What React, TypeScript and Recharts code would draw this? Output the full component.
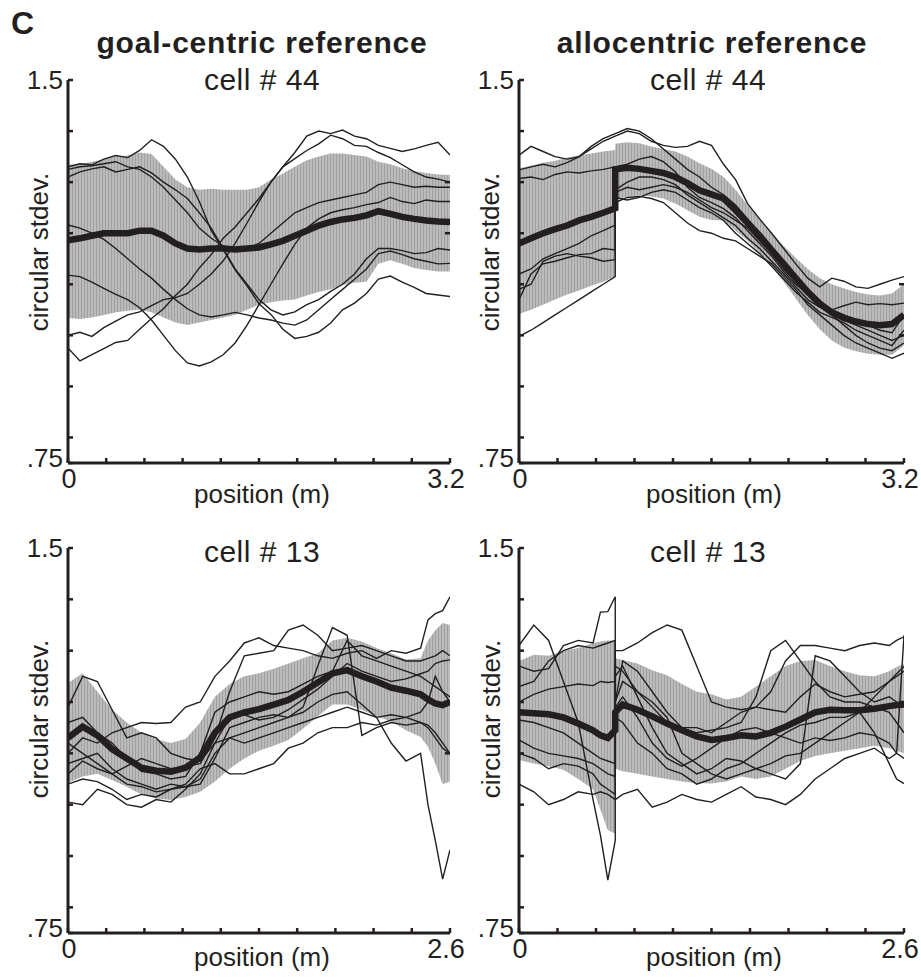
import { ComposedChart, Area, Line, XAxis, YAxis } from 'recharts'

const INK = '#231f20'
const FONT = '"Liberation Sans", Arial, Helvetica, sans-serif'

// shared axes
const Y_TICKS = [0.75, 0.8, 0.9, 1, 1.1, 1.2, 1.3, 1.4, 1.5]
const X_TICKS_32 = [0, 0.32, 0.64, 0.96, 1.28, 1.6, 1.92, 2.24, 2.56, 2.88, 3.2]
const X_TICKS_26 = [0, 0.26, 0.52, 0.78, 1.04, 1.3, 1.56, 1.82, 2.08, 2.34, 2.6]

// ---- goal-centric, cell # 44 ----
const goal44Pos = [0, 0.1, 0.2, 0.3, 0.4, 0.5, 0.6, 0.7, 0.8, 0.9, 1, 1.1, 1.2, 1.3, 1.4, 1.5, 1.6, 1.7, 1.8, 1.9, 2, 2.1, 2.2, 2.3, 2.4, 2.5, 2.6, 2.7, 2.8, 2.9, 3, 3.1, 3.2]
const goal44Mean = [1.186, 1.19, 1.195, 1.2, 1.2, 1.2, 1.205, 1.205, 1.195, 1.18, 1.17, 1.168, 1.17, 1.17, 1.168, 1.17, 1.172, 1.178, 1.185, 1.195, 1.205, 1.215, 1.222, 1.227, 1.23, 1.235, 1.243, 1.238, 1.232, 1.228, 1.225, 1.223, 1.222]
const goal44Hi = [1.334, 1.335, 1.34, 1.345, 1.35, 1.352, 1.358, 1.355, 1.33, 1.305, 1.29, 1.285, 1.287, 1.285, 1.285, 1.285, 1.29, 1.305, 1.317, 1.33, 1.343, 1.35, 1.356, 1.356, 1.353, 1.35, 1.34, 1.335, 1.327, 1.322, 1.318, 1.315, 1.314]
const goal44Lo = [1.034, 1.032, 1.035, 1.04, 1.045, 1.048, 1.05, 1.045, 1.035, 1.025, 1.02, 1.025, 1.03, 1.035, 1.04, 1.05, 1.06, 1.065, 1.068, 1.07, 1.078, 1.085, 1.09, 1.098, 1.103, 1.105, 1.14, 1.147, 1.14, 1.132, 1.128, 1.125, 1.125]
const goal44Traces = [
  [1.33, 1.336, 1.334, 1.345, 1.352, 1.348, 1.362, 1.383, 1.37, 1.345, 1.31, 1.262, 1.205, 1.168, 1.128, 1.097, 1.062, 1.041, 1.012, 0.994, 0.998, 1.006, 1.024, 1.05, 1.063, 1.082, 1.11, 1.116, 1.104, 1.094, 1.082, 1.079, 1.076],
  [0.975, 0.95, 0.962, 0.974, 0.986, 0.99, 1.012, 1.033, 1.052, 1.078, 1.1, 1.132, 1.158, 1.19, 1.212, 1.24, 1.268, 1.3, 1.33, 1.358, 1.39, 1.4, 1.395, 1.402, 1.39, 1.385, 1.372, 1.366, 1.36, 1.365, 1.372, 1.378, 1.353],
  [1.0, 1.006, 0.998, 1.015, 1.028, 1.04, 1.046, 1.058, 1.07, 1.074, 1.082, 1.1, 1.12, 1.146, 1.18, 1.22, 1.262, 1.3, 1.33, 1.346, 1.362, 1.375, 1.392, 1.385, 1.372, 1.37, 1.358, 1.348, 1.334, 1.32, 1.31, 1.306, 1.3],
  [1.118, 1.115, 1.104, 1.092, 1.08, 1.07, 1.054, 1.03, 1.0, 0.97, 0.946, 0.94, 0.948, 0.962, 0.985, 1.02, 1.06, 1.1, 1.14, 1.178, 1.21, 1.228, 1.24, 1.246, 1.25, 1.256, 1.26, 1.27, 1.262, 1.258, 1.265, 1.262, 1.262],
  [1.216, 1.21, 1.2, 1.188, 1.17, 1.15, 1.13, 1.112, 1.09, 1.07, 1.052, 1.04, 1.036, 1.04, 1.045, 1.04, 1.034, 1.03, 1.024, 1.02, 1.03, 1.05, 1.07, 1.09, 1.11, 1.13, 1.16, 1.165, 1.158, 1.15, 1.145, 1.14, 1.141],
  [1.31, 1.32, 1.326, 1.33, 1.32, 1.325, 1.33, 1.318, 1.3, 1.285, 1.268, 1.24, 1.21, 1.17, 1.13, 1.1, 1.07, 1.05, 1.04, 1.046, 1.06, 1.07, 1.086, 1.1, 1.12, 1.15, 1.17, 1.17, 1.166, 1.16, 1.162, 1.17, 1.167],
  [1.325, 1.33, 1.332, 1.336, 1.34, 1.33, 1.325, 1.31, 1.29, 1.265, 1.24, 1.21, 1.19, 1.175, 1.165, 1.17, 1.18, 1.2, 1.22, 1.24, 1.25, 1.26, 1.265, 1.27, 1.275, 1.28, 1.295, 1.3, 1.295, 1.29, 1.292, 1.29, 1.29],
]

// ---- allocentric, cell # 44 (break at 0.8 m) ----
const allo44Pos = [0, 0.1, 0.2, 0.3, 0.4, 0.5, 0.6, 0.7, 0.8, 0.8, 0.9, 1, 1.1, 1.2, 1.3, 1.4, 1.5, 1.6, 1.7, 1.8, 1.9, 2, 2.1, 2.2, 2.3, 2.4, 2.5, 2.6, 2.7, 2.8, 2.9, 3, 3.1, 3.2]
const allo44Mean = [1.18, 1.19, 1.2, 1.208, 1.215, 1.225, 1.232, 1.24, 1.249, 1.325, 1.328, 1.326, 1.322, 1.318, 1.31, 1.298, 1.284, 1.276, 1.268, 1.245, 1.22, 1.195, 1.167, 1.14, 1.112, 1.085, 1.062, 1.045, 1.034, 1.027, 1.022, 1.02, 1.022, 1.04]
const allo44Hi = [1.327, 1.332, 1.338, 1.342, 1.348, 1.352, 1.356, 1.36, 1.363, 1.375, 1.378, 1.376, 1.37, 1.365, 1.36, 1.35, 1.337, 1.326, 1.31, 1.285, 1.255, 1.228, 1.2, 1.175, 1.152, 1.13, 1.112, 1.1, 1.092, 1.085, 1.08, 1.078, 1.082, 1.1]
const allo44Lo = [1.042, 1.05, 1.06, 1.07, 1.08, 1.088, 1.097, 1.105, 1.115, 1.265, 1.272, 1.274, 1.272, 1.268, 1.258, 1.245, 1.232, 1.226, 1.225, 1.205, 1.185, 1.162, 1.134, 1.105, 1.072, 1.04, 1.012, 0.99, 0.976, 0.969, 0.964, 0.962, 0.962, 0.98]
const allo44Traces = [
  [1.353, 1.37, 1.36, 1.35, 1.345, 1.35, 1.365, 1.38, 1.39, 1.39, 1.4, 1.395, 1.38, 1.372, 1.368, 1.37, 1.38, 1.372, 1.335, 1.305, 1.258, 1.228, 1.2, 1.17, 1.14, 1.112, 1.095, 1.112, 1.106, 1.095, 1.092, 1.1, 1.108, 1.115],
  [1.324, 1.33, 1.335, 1.33, 1.338, 1.35, 1.37, 1.385, 1.395, 1.395, 1.405, 1.4, 1.385, 1.365, 1.345, 1.325, 1.31, 1.29, 1.275, 1.255, 1.228, 1.2, 1.172, 1.142, 1.112, 1.085, 1.065, 1.05, 1.058, 1.065, 1.06, 1.062, 1.06, 1.063],
  [1.307, 1.31, 1.305, 1.315, 1.32, 1.318, 1.322, 1.325, 1.33, 1.33, 1.335, 1.345, 1.35, 1.34, 1.32, 1.29, 1.27, 1.26, 1.248, 1.23, 1.205, 1.18, 1.155, 1.125, 1.1, 1.08, 1.065, 1.045, 1.03, 1.02, 1.01, 1.0, 0.99, 1.0],
  [1.12, 1.13, 1.15, 1.16, 1.17, 1.18, 1.195, 1.205, 1.216, 1.28, 1.29, 1.285, 1.29, 1.295, 1.29, 1.28, 1.265, 1.25, 1.24, 1.225, 1.21, 1.185, 1.16, 1.13, 1.105, 1.08, 1.06, 1.04, 1.02, 1.0, 0.985, 0.975, 0.97, 0.985],
  [1.09, 1.1, 1.145, 1.155, 1.16, 1.155, 1.152, 1.145, 1.148, 1.26, 1.27, 1.272, 1.268, 1.26, 1.24, 1.22, 1.205, 1.2, 1.19, 1.185, 1.17, 1.155, 1.14, 1.115, 1.09, 1.06, 1.04, 1.02, 1.0, 0.985, 0.975, 0.965, 0.955, 0.965],
  [1.07, 1.12, 1.14, 1.145, 1.152, 1.158, 1.16, 1.17, 1.167, 1.285, 1.3, 1.31, 1.31, 1.305, 1.295, 1.275, 1.26, 1.245, 1.23, 1.215, 1.19, 1.17, 1.145, 1.12, 1.095, 1.07, 1.055, 1.05, 1.04, 1.03, 1.02, 1.01, 1.005, 1.04],
  [0.998, 1.01, 1.025, 1.04, 1.055, 1.07, 1.085, 1.1, 1.115, 1.27, 1.265, 1.27, 1.28, 1.285, 1.28, 1.265, 1.25, 1.24, 1.225, 1.2, 1.18, 1.16, 1.135, 1.11, 1.085, 1.065, 1.045, 1.035, 1.025, 1.01, 1.0, 0.99, 0.98, 1.01],
]

// ---- goal-centric, cell # 13 ----
const goal13Pos = [0, 0.1, 0.2, 0.3, 0.4, 0.5, 0.6, 0.7, 0.8, 0.9, 1, 1.1, 1.2, 1.3, 1.4, 1.5, 1.6, 1.7, 1.8, 1.9, 2, 2.1, 2.2, 2.3, 2.4, 2.45, 2.5, 2.55, 2.6]
const goal13Mean = [1.13, 1.152, 1.135, 1.108, 1.09, 1.072, 1.066, 1.064, 1.072, 1.092, 1.14, 1.17, 1.18, 1.186, 1.195, 1.204, 1.22, 1.238, 1.256, 1.262, 1.25, 1.24, 1.228, 1.222, 1.215, 1.205, 1.197, 1.194, 1.2]
const goal13Hi = [1.237, 1.256, 1.22, 1.185, 1.16, 1.14, 1.128, 1.12, 1.128, 1.16, 1.21, 1.235, 1.25, 1.256, 1.265, 1.275, 1.285, 1.295, 1.32, 1.325, 1.318, 1.305, 1.295, 1.283, 1.285, 1.32, 1.34, 1.354, 1.35]
const goal13Lo = [1.042, 1.055, 1.06, 1.048, 1.035, 1.02, 1.012, 1.009, 1.015, 1.025, 1.045, 1.07, 1.09, 1.105, 1.115, 1.126, 1.148, 1.172, 1.195, 1.195, 1.185, 1.172, 1.162, 1.145, 1.132, 1.113, 1.08, 1.04, 1.045]
const goal13Traces = [
  [1.19, 1.25, 1.24, 1.185, 1.13, 1.14, 1.13, 1.1, 1.09, 1.085, 1.12, 1.17, 1.175, 1.165, 1.17, 1.185, 1.205, 1.225, 1.25, 1.275, 1.26, 1.25, 1.24, 1.245, 1.255, 1.26, 1.275, 1.28, 1.282],
  [1.1, 1.13, 1.12, 1.14, 1.15, 1.16, 1.158, 1.16, 1.19, 1.2, 1.25, 1.28, 1.315, 1.325, 1.31, 1.305, 1.3, 1.29, 1.285, 1.295, 1.3, 1.285, 1.3, 1.295, 1.305, 1.36, 1.372, 1.378, 1.405],
  [1.06, 1.085, 1.07, 1.06, 1.075, 1.09, 1.08, 1.07, 1.075, 1.08, 1.13, 1.22, 1.29, 1.295, 1.3, 1.34, 1.35, 1.33, 1.3, 1.305, 1.31, 1.3, 1.29, 1.28, 1.28, 1.285, 1.29, 1.3, 1.29],
  [1.08, 1.09, 1.1, 1.07, 1.05, 1.04, 1.03, 1.04, 1.035, 1.05, 1.1, 1.13, 1.14, 1.15, 1.16, 1.17, 1.19, 1.27, 1.345, 1.33, 1.135, 1.15, 1.16, 1.155, 1.16, 1.15, 1.13, 1.11, 1.1],
  [1.04, 1.05, 1.045, 1.03, 1.01, 1.02, 1.015, 1.03, 1.035, 1.04, 1.09, 1.15, 1.16, 1.17, 1.175, 1.17, 1.18, 1.2, 1.215, 1.22, 1.195, 1.17, 1.12, 1.085, 1.1, 1.0, 0.93, 0.855, 0.912],
  [1.005, 1.0, 1.03, 1.02, 1.0, 0.995, 1.01, 1.005, 1.03, 1.06, 1.12, 1.13, 1.12, 1.13, 1.14, 1.15, 1.16, 1.17, 1.18, 1.19, 1.18, 1.17, 1.175, 1.17, 1.16, 1.155, 1.14, 1.12, 1.1],
  [1.12, 1.1, 1.08, 1.06, 1.04, 1.035, 1.025, 1.03, 1.04, 1.07, 1.08, 1.06, 1.06, 1.07, 1.08, 1.11, 1.12, 1.14, 1.15, 1.15, 1.16, 1.155, 1.165, 1.17, 1.18, 1.2, 1.25, 1.22, 1.2],
  [1.16, 1.17, 1.14, 1.12, 1.09, 1.065, 1.06, 1.05, 1.055, 1.1, 1.18, 1.2, 1.21, 1.22, 1.215, 1.22, 1.235, 1.25, 1.26, 1.32, 1.29, 1.28, 1.27, 1.26, 1.25, 1.24, 1.23, 1.22, 1.21],
]

// ---- allocentric, cell # 13 (break at 0.65 m) ----
const allo13Pos = [0, 0.1, 0.2, 0.3, 0.4, 0.5, 0.55, 0.6, 0.65, 0.65, 0.7, 0.8, 0.9, 1, 1.1, 1.2, 1.3, 1.4, 1.5, 1.6, 1.7, 1.8, 1.9, 2, 2.1, 2.2, 2.3, 2.4, 2.5, 2.55, 2.6]
const allo13Mean = [1.18, 1.178, 1.176, 1.17, 1.158, 1.145, 1.135, 1.13, 1.145, 1.18, 1.195, 1.185, 1.172, 1.158, 1.145, 1.133, 1.126, 1.13, 1.135, 1.133, 1.14, 1.152, 1.166, 1.18, 1.185, 1.184, 1.184, 1.187, 1.192, 1.194, 1.195]
const allo13Hi = [1.28, 1.292, 1.29, 1.3, 1.305, 1.315, 1.318, 1.32, 1.32, 1.285, 1.282, 1.275, 1.262, 1.252, 1.235, 1.22, 1.215, 1.205, 1.21, 1.23, 1.25, 1.27, 1.28, 1.282, 1.27, 1.26, 1.252, 1.25, 1.26, 1.268, 1.275]
const allo13Lo = [1.087, 1.08, 1.075, 1.068, 1.05, 1.03, 0.99, 0.95, 0.944, 1.07, 1.065, 1.06, 1.055, 1.05, 1.045, 1.042, 1.041, 1.045, 1.055, 1.05, 1.055, 1.07, 1.085, 1.095, 1.1, 1.105, 1.11, 1.115, 1.11, 1.105, 1.1]
const allo13Traces = [
  [1.31, 1.35, 1.32, 1.24, 1.16, 1.01, 0.94, 0.853, 0.93, 1.25, 1.27, 1.21, 1.15, 1.1, 1.08, 1.06, 1.07, 1.09, 1.085, 1.07, 1.06, 1.05, 1.08, 1.29, 1.28, 1.25, 1.22, 1.2, 1.21, 1.2, 1.19],
  [1.27, 1.26, 1.265, 1.31, 1.32, 1.315, 1.375, 1.376, 1.405, 1.17, 1.16, 1.12, 1.1, 1.07, 1.06, 1.04, 1.05, 1.07, 1.08, 1.1, 1.12, 1.14, 1.155, 1.16, 1.17, 1.17, 1.18, 1.21, 1.24, 1.25, 1.26],
  [1.2, 1.215, 1.225, 1.23, 1.235, 1.232, 1.24, 1.238, 1.24, 1.3, 1.3, 1.315, 1.335, 1.35, 1.34, 1.27, 1.2, 1.19, 1.185, 1.19, 1.22, 1.28, 1.31, 1.31, 1.305, 1.3, 1.31, 1.315, 1.31, 1.32, 1.327],
  [1.23, 1.24, 1.28, 1.3, 1.31, 1.305, 1.31, 1.315, 1.32, 1.2, 1.28, 1.26, 1.22, 1.18, 1.15, 1.14, 1.145, 1.15, 1.16, 1.21, 1.3, 1.32, 1.28, 1.24, 1.21, 1.2, 1.2, 1.19, 1.18, 1.16, 1.14],
  [1.04, 1.025, 1.0, 1.01, 1.025, 1.02, 1.025, 1.02, 1.01, 1.01, 1.02, 1.03, 0.995, 1.005, 1.02, 1.01, 1.005, 1.02, 1.035, 1.015, 1.01, 1.0, 1.02, 1.05, 1.07, 1.09, 1.1, 1.11, 1.09, 1.1, 1.33],
  [1.1, 1.09, 1.07, 1.08, 1.075, 1.06, 1.04, 1.03, 1.02, 1.2, 1.24, 1.22, 1.2, 1.17, 1.1, 1.08, 1.06, 1.05, 1.06, 1.07, 1.08, 1.095, 1.1, 1.12, 1.14, 1.16, 1.18, 1.14, 1.08, 1.05, 1.041],
  [1.165, 1.16, 1.15, 1.14, 1.12, 1.1, 1.09, 1.085, 1.08, 1.27, 1.26, 1.22, 1.19, 1.16, 1.15, 1.15, 1.14, 1.16, 1.18, 1.19, 1.185, 1.18, 1.21, 1.235, 1.22, 1.21, 1.215, 1.22, 1.24, 1.255, 1.269],
  [1.126, 1.11, 1.1, 1.095, 1.09, 1.08, 1.07, 1.06, 1.055, 1.19, 1.21, 1.17, 1.12, 1.09, 1.075, 1.09, 1.11, 1.13, 1.145, 1.15, 1.14, 1.13, 1.12, 1.13, 1.125, 1.13, 1.14, 1.135, 1.12, 1.1, 1.09],
]

type PanelProps = {
  id: string
  left: number
  top: number
  plotW: number
  plotH: number
  xs: number[]
  mean: number[]
  hi: number[]
  lo: number[]
  traces: number[][]
  xMax: number
  xTicks: number[]
  xEndLabel: string
  rightTicks: number[]
}

const LeftTick = (props: any) => {
  const { x, y, payload } = props
  const v = payload.value
  const label = v === 1.5 ? '1.5' : v === 0.75 ? '.75' : ''
  return (
    <g>
      <line x1={x} x2={x + 5} y1={y} y2={y} stroke={INK} strokeWidth={2.5} />
      {label && (
        <text x={x - 5} y={v === 0.75 ? y + 4 : y + 9} textAnchor="end" fontSize={26} fontFamily={FONT} fill={INK}>
          {label}
        </text>
      )}
    </g>
  )
}

const RightTick = (props: any) => {
  const { x, y } = props
  return <line x1={x - 5} x2={x} y1={y} y2={y} stroke={INK} strokeWidth={2.5} />
}

const makeBottomTick = (xMax: number, endLabel: string) => (props: any) => {
  const { x, y, payload } = props
  const v = payload.value
  const label = v === 0 ? '0' : v === xMax ? endLabel : ''
  return (
    <g>
      <line x1={x} x2={x} y1={y} y2={y - 5} stroke={INK} strokeWidth={2.5} />
      {label && (
        <text x={v === 0 ? x + 1 : x - 4} y={y + 25} textAnchor="middle" fontSize={27} fontFamily={FONT} fill={INK}>
          {label}
        </text>
      )}
    </g>
  )
}

function Panel(p: PanelProps) {
  const rows = p.xs.map((x, i) => {
    const row: Record<string, number | number[]> = { x, band: [p.lo[i], p.hi[i]], mean: p.mean[i] }
    p.traces.forEach((t, j) => {
      row['t' + j] = t[i]
    })
    return row
  })
  // extra right margin leaves room for the end label of the x axis
  const width = 68 + p.plotW + 12 + 22
  const height = 80 + p.plotH + 40

  return (
    <div style={{ position: 'absolute', left: p.left, top: p.top }}>
      <ComposedChart width={width} height={height} data={rows} margin={{ top: 80, right: 22, bottom: 10, left: 8 }}>
        <defs>
          <pattern id={'hatch-' + p.id} width={3} height={8} patternUnits="userSpaceOnUse">
            <rect width={3} height={8} fill="#bbbbbb" />
            <rect width={1} height={8} fill="#a0a0a0" />
          </pattern>
        </defs>
        <XAxis
          dataKey="x"
          type="number"
          domain={[0, p.xMax]}
          ticks={p.xTicks}
          interval={0}
          allowDataOverflow
          height={30}
          tickSize={0}
          tickMargin={0}
          tickLine={false}
          axisLine={{ stroke: INK, strokeWidth: 3 }}
          tick={makeBottomTick(p.xMax, p.xEndLabel)}
        />
        <YAxis
          type="number"
          domain={[0.75, 1.5]}
          ticks={Y_TICKS}
          interval={0}
          allowDataOverflow
          width={60}
          tickSize={0}
          tickMargin={0}
          tickLine={false}
          axisLine={{ stroke: INK, strokeWidth: 3 }}
          tick={LeftTick}
        />
        <YAxis
          yAxisId="r"
          orientation="right"
          type="number"
          domain={[0.75, 1.5]}
          ticks={p.rightTicks}
          interval={0}
          allowDataOverflow
          width={12}
          tickSize={0}
          tickMargin={0}
          tickLine={false}
          axisLine={false}
          tick={RightTick}
        />
        <Area dataKey="band" stroke="none" fill={`url(#hatch-${p.id})`} fillOpacity={1} isAnimationActive={false} />
        {p.traces.map((_, j) => (
          <Line
            key={j}
            dataKey={'t' + j}
            type="linear"
            stroke={INK}
            strokeWidth={1.4}
            dot={false}
            activeDot={false}
            isAnimationActive={false}
          />
        ))}
        <Line
          dataKey="mean"
          type="linear"
          stroke={INK}
          strokeWidth={6.5}
          dot={false}
          activeDot={false}
          isAnimationActive={false}
        />
      </ComposedChart>
    </div>
  )
}

export default function App() {
  return (
    <div style={{ position: 'absolute', left: 0, top: 0, width: 921, height: 978, background: '#fff', overflow: 'hidden' }}>
      <Panel id="g44" left={0} top={0} plotW={382} plotH={383} xs={goal44Pos} mean={goal44Mean} hi={goal44Hi} lo={goal44Lo}
        traces={goal44Traces} xMax={3.2} xTicks={X_TICKS_32} xEndLabel="3.2" rightTicks={[1.2, 1.3]} />
      <Panel id="a44" left={451} top={0} plotW={385} plotH={383} xs={allo44Pos} mean={allo44Mean} hi={allo44Hi} lo={allo44Lo}
        traces={allo44Traces} xMax={3.2} xTicks={X_TICKS_32} xEndLabel="3.2" rightTicks={[1.0, 1.1]} />
      <Panel id="g13" left={0} top={468} plotW={382} plotH={385} xs={goal13Pos} mean={goal13Mean} hi={goal13Hi} lo={goal13Lo}
        traces={goal13Traces} xMax={2.6} xTicks={X_TICKS_26} xEndLabel="2.6" rightTicks={[1.1, 1.2]} />
      <Panel id="a13" left={451} top={468} plotW={385} plotH={385} xs={allo13Pos} mean={allo13Mean} hi={allo13Hi} lo={allo13Lo}
        traces={allo13Traces} xMax={2.6} xTicks={X_TICKS_26} xEndLabel="2.6" rightTicks={[1.2]} />

      <svg width={921} height={978} style={{ position: 'absolute', left: 0, top: 0, pointerEvents: 'none' }} fontFamily={FONT} fill={INK}>
        <text x={11} y={34} fontSize={32} fontWeight="bold">C</text>
        <text x={262} y={53} fontSize={30} fontWeight="bold" textAnchor="middle" letterSpacing={0.8}>goal-centric reference</text>
        <text x={712} y={53} fontSize={30} fontWeight="bold" textAnchor="middle" letterSpacing={0.8}>allocentric reference</text>
        <text x={262} y={90} fontSize={30} textAnchor="middle" letterSpacing={0.5}>cell # 44</text>
        <text x={708} y={90} fontSize={30} textAnchor="middle" letterSpacing={0.5}>cell # 44</text>
        <text x={262} y={562} fontSize={30} textAnchor="middle" letterSpacing={0.5}>cell # 13</text>
        <text x={708} y={562} fontSize={30} textAnchor="middle" letterSpacing={0.5}>cell # 13</text>

        <text transform="translate(48,252) rotate(-90)" fontSize={26} textAnchor="middle">circular stdev.</text>
        <text transform="translate(499,252) rotate(-90)" fontSize={26} textAnchor="middle">circular stdev.</text>
        <text transform="translate(48,719) rotate(-90)" fontSize={26} textAnchor="middle">circular stdev.</text>
        <text transform="translate(500,719) rotate(-90)" fontSize={26} textAnchor="middle">circular stdev.</text>

        <text x={262} y={503} fontSize={26} textAnchor="middle">position (m)</text>
        <text x={714} y={503} fontSize={26} textAnchor="middle">position (m)</text>
        <text x={262} y={966} fontSize={26} textAnchor="middle">position (m)</text>
        <text x={714} y={966} fontSize={26} textAnchor="middle">position (m)</text>
      </svg>
    </div>
  )
}
